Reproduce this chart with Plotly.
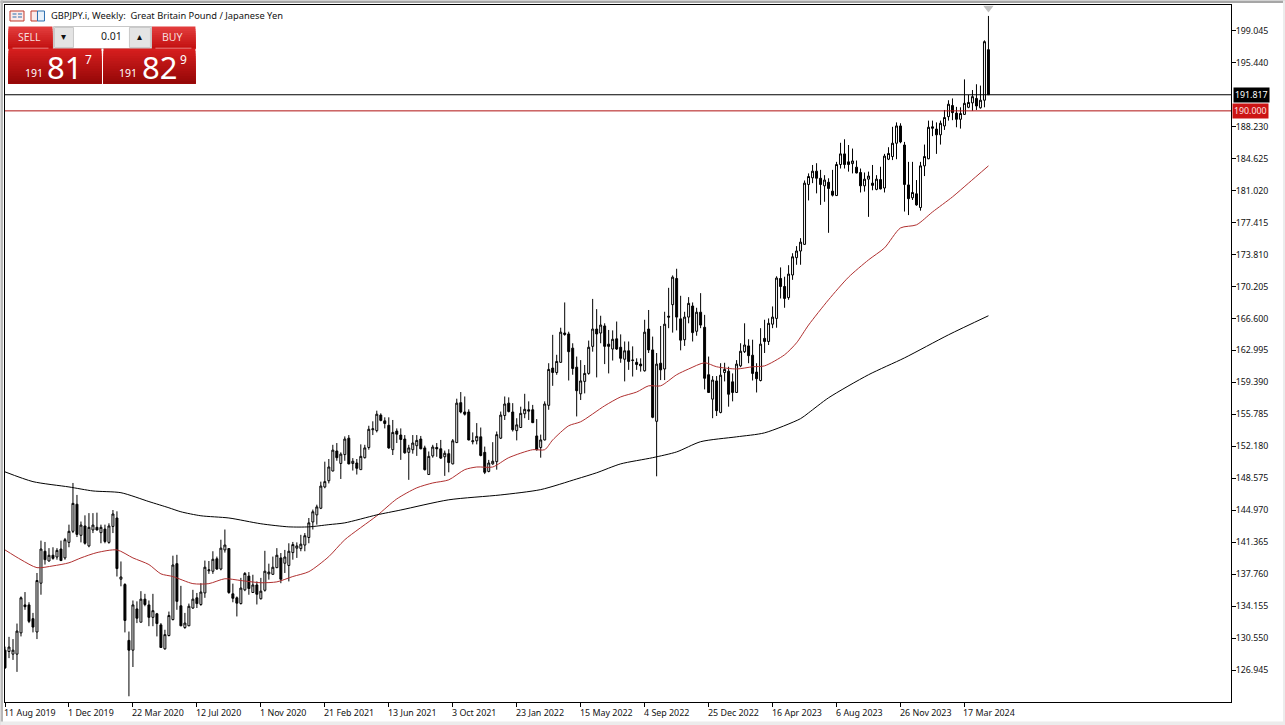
import plotly.graph_objects as go

highs = [129.6,130.7,130.45,132.2,135.25,135.75,134.6,133.4,137.9,141.55,
141.4,140.7,140.8,140.7,141.55,141.85,143.35,148.05,146.7,143.7,
144.4,144.65,144.65,144.7,143.35,143.35,143.5,145,144.85,139.2,
136.75,131.3,134.8,134.7,135.85,135.55,134.8,135.55,133.4,132.25,
131.5,133.55,139.85,139.95,136.45,133.4,134.45,136,135.65,136.75,
139.3,139.25,140.35,139.75,141.65,142.8,140.65,136.7,135.25,137.35,
138,138,137.7,136.95,137.35,140.4,138.95,139.75,140.7,140.15,
140.5,141.25,141.4,141.35,142.2,142.4,144.1,145.05,145.6,148.2,
150.45,150.75,152.35,152.55,151.5,153.3,153.45,150.85,150.75,152.4,
152.35,154.5,155,156.2,155.9,155.45,155.45,155.15,154.2,154.2,
153.45,152.35,153.45,153.45,153.35,152.25,151.6,152.35,152.55,152.9,
151.7,151.85,153,157.55,158.3,157.8,156.35,153.75,154.8,154.3,
152.15,150.65,152.65,153.85,156.1,157.8,157.7,157.05,155.35,156.65,
158.1,157.25,156.85,155.25,153.5,157.25,161.55,164.75,162.5,165.55,
168.4,165.1,163.8,162.3,161.9,161.35,164.1,168.8,167.65,166.9,
166.05,165.3,165.25,166.25,164.8,164,164,163.45,162.1,162.1,
166.45,167.55,164.55,162.7,165.75,167.35,170.05,171.45,172.2,169.15,
167.35,169,168.4,167.8,169.45,167,162.3,160.1,160.1,161.55,
161.6,161.15,160.4,161.9,163.8,166.05,164.25,164.2,161.55,165.5,
166.45,166.6,167.95,171.35,172.35,171.3,172.6,173.95,174.75,175.65,
182.15,182.95,183.9,184.1,183.35,182.75,182.4,183.35,184.25,186.4,
186.8,186.15,185.75,184.4,183.5,183.05,183.15,183.9,182.75,183.7,
185.15,185.9,188.2,188.7,188.6,186.5,184.25,184.25,182.2,184.25,
186.2,188.9,188.9,188.7,188.9,190.1,191.2,191.4,190.45,190.4,
193.55,191.8,192.35,193,192.85,197.95,200.7]

lows = [127.1,128.3,128.1,126.75,130.75,133.75,132.25,131.2,130.45,135.45,
138.85,139.2,139.4,139.4,139.3,139.4,140.8,142.4,141.95,141.35,
141.1,140.8,142.4,142.7,141.25,141.25,141.2,142.4,137.5,136.4,
131.2,124,127.3,132.25,132.35,134.15,131.9,131.9,130.75,129.45,
129.25,130.75,132.55,133.75,131.9,131.6,131.9,133.85,133.95,134.2,
135.1,137.8,137.8,138.25,138.2,140.2,135.55,134.6,133,134.35,
135.85,135.45,135.65,134.35,134.9,135.8,137.15,137.7,138.45,136.75,
137.9,136.95,139.4,139.6,140.35,140.35,141.25,142.8,143.35,145.1,
147.45,148,149.35,150.55,148.5,150.55,150.15,149.45,149,149.55,
150.8,151.8,153.45,153.75,155,154.2,151.9,151.2,152.55,150.65,
151.35,148.4,151.35,151.1,151.85,149.45,149,150.9,151,150.75,
148.85,149.25,150.15,152.55,155.9,155.65,152.85,152.4,152.4,151.05,
149.05,149.25,150.1,149.55,153,155.15,156,153.85,152.85,154.25,
155.35,155.15,154.8,151.7,150.9,152.85,156.3,159,160.25,161.6,
164.65,159.6,160.25,155.55,157.4,158.15,160.25,162.85,159.95,163.8,
161.45,160.4,161.85,163.05,161.6,159.5,160.8,160.05,160.8,160.6,
160.6,162.7,155.35,148.8,159.65,159.65,165.5,165,165.25,163,
163.5,166.05,164,164.65,165.5,158.6,158.2,155.35,155.6,155.9,
159.5,156.65,157.25,158.2,161.1,162.7,161.55,159.6,158.25,159.5,
162.7,163.6,165.5,165.55,168.85,167.8,168.7,170.95,172.65,172.65,
174.9,179.9,181.85,180.7,179.4,179.75,176.25,180.35,180.4,183.5,
183.5,183.15,182.95,182.95,180.8,180.9,178.05,181.05,181.05,181.15,
180.8,184.45,184.45,184.55,186.35,178.65,178.25,179.95,179.3,178.75,
182.65,184.55,187.15,185.15,186.2,187.85,188.9,188.95,188.15,188,
189.55,190.3,190,190.1,190.25,190.4,191.8]

opens = [129.2,129.05,128.75,128.75,131.15,134.3,134.3,132.75,131.25,136.75,
140.35,139.25,139.9,139.7,140.6,139.6,141.35,142.6,145.65,142.15,
143.2,140.95,142.75,143.05,142.45,142.85,141.35,143.15,144.1,137.2,
136.6,130.3,129.2,133.85,132.35,134.95,134.3,132.9,133.3,132.05,
129.35,130.85,132.65,138.95,134.2,131.75,131.95,133.95,135.1,134.35,
135.65,138.15,138.1,139.5,138.35,140.5,140.65,135.55,135.1,134.45,
136,137.55,135.7,136.55,135,135.95,137.8,137.75,138.5,139.6,
139,138.75,140.2,140.7,140.65,141.05,141.9,143.65,144.45,145.2,
147.6,148.3,149.4,151.65,150.25,151.25,153.1,150.25,150.3,149.55,
150.9,152.05,154.05,153.95,155.7,155.05,154.55,151.8,153.9,153.45,
153,151.5,151.8,152.25,153,152,149,151.1,152.05,151.9,
151,151.35,150.2,152.6,157.1,156.05,156.05,152.7,152.8,153.25,
151.5,149.35,150.2,150.45,153.1,155.65,157.05,156.05,153.95,154.3,
155.85,156.3,156.3,153.35,152.05,152.9,156.8,161,160.5,161.65,
164.95,164.85,163.25,161.1,158.1,159.5,160.4,163.45,165.4,164.95,
165.75,163.7,163.15,164.3,163.35,162,162.95,161.85,161.65,161.45,
160.7,165.4,163.05,155,161.55,160.9,166.85,168.15,171.1,166.55,
164.2,166.75,168,165.15,167.3,165.6,160.25,157.5,159.55,156,
160.5,160.65,159.45,158.25,161.25,162.85,163.5,162.45,160.55,159.6,
164.35,164,165.95,166.6,171.1,170.2,168.95,171.5,173.45,174.2,
174.95,181.7,182.45,183.2,182.4,181.55,181.95,180.95,180.45,183.95,
185.15,184.25,184.05,183.65,183.05,181.55,182.3,181.85,181.15,182.25,
181.3,184.55,184.85,186.35,188.3,186.15,181.65,180.2,180.65,179.1,
183.8,184.6,188.2,187.95,187.3,188.3,189.35,190.6,189.75,189.05,
189.6,190.4,190.9,191.4,190.35,191.2,196.9]

closes = [127.2,129.55,129.2,131.35,135.1,134.1,132.45,131.8,137.05,140.6,
139.4,139.9,139.55,140.45,139.3,141.65,142.6,145.75,142.25,143.3,
141.25,143.05,143.3,142.75,143.05,141.45,143.2,144.55,138.4,137.45,
132.55,129.2,134.3,132.8,134.95,134.35,132.9,133.65,132.2,129.5,
130.95,133.1,138.8,134.7,131.95,132.25,134.15,134.95,134.45,135.75,
138.55,138.25,139.45,138.35,140.7,141.05,135.7,135.05,134.5,136.2,
137.85,136.15,136.55,135.5,135.85,138.1,138,138.55,139.9,137.2,
139.7,140.35,141.1,140.95,141.15,142.1,143.55,144.8,145.35,147.7,
148.2,149.85,151.75,150.9,151.3,153,150.2,150.5,149.7,151.05,
152,154.1,154.15,155.8,155.1,154.75,152,153.75,153.55,152.95,
151.45,152,152.55,152.85,151.9,149.55,151.05,152.1,151.9,150.85,
151.4,150.35,152.8,157.05,156.05,155.8,152.9,152.8,153.3,151.15,
149.25,150.3,150.5,153.5,155.7,156.95,156.1,154.05,154.6,155.9,
156.35,156.15,154.85,151.8,152.9,156.95,160.85,160.5,161.75,165.05,
164.8,162.85,160.95,158.45,159.55,160.4,163.35,165.4,164.85,165.85,
163.45,163.45,164.25,163.15,162.1,162.95,161.75,161.9,161.4,161.25,
165.05,163.05,155.45,161.45,160.8,165.95,166.75,171.25,166.75,164.15,
166.75,168.3,165,167.3,165.85,159.85,158.25,159.65,156.2,160.2,
160.85,158.05,158.25,161.45,162.9,163.6,162.4,160.4,159.8,163.7,
164,166.05,166.75,171.15,170.2,168.85,171.6,173.55,174.2,175.2,
181.85,182.6,183.2,182.4,181.7,182.2,181.25,180.5,183.95,185.15,
183.95,183.95,184.35,183,181.55,182.3,182.65,181.6,182.3,181.2,
184.9,185.2,186.35,188.3,186.5,181.7,180.1,180.8,179.4,183.8,
184.85,188.15,188.05,187.3,188.6,189.25,190.75,189.8,189.05,189.7,
190.85,190.95,191.6,190.55,191.2,197.8,191.817]

ma_fast_bar = [0,4,8,12,16,19,23,28,32,36,39,42,47,51,55,59,64,68,72,76,81,85,93,98,103,107,111,115,118,122,126,132,135,137,141,144,150,154,158,161,164,168,171,175,178,183,187,190,195,198,201,206,211,216,220,224,228,232,237,241,246]
ma_fast = [140.5,139.4,138.5,138.7,139.05,139.6,140.2,140.5,139.6,138.85,137.8,137.5,136.7,136.7,137.25,137.05,136.8,136.9,137.5,138.05,139.75,141.65,144.35,146.25,147.5,148.05,148.4,149.55,149.85,149.85,150.9,151.8,151.8,152.9,154.5,154.95,156.75,157.75,158.3,159,159,160.25,160.9,161.6,161.15,160.9,161.15,161.25,162.5,163.85,165.85,168.7,171.25,173.2,174.55,176.8,177.15,178.6,180.3,181.85,183.8]
ma_slow_bar = [0,7,16,22,29,36,41,44,49,56,64,71,76,81,85,93,99,111,124,134,143,148,154,162,168,174,183,190,199,201,206,216,225,236,246]
ma_slow = [149.3,148.2,147.6,147.15,146.95,145.95,145.25,144.8,144.35,144.1,143.45,143.1,143.1,143.35,143.55,144.45,145,146.15,146.7,147.3,148.5,149.2,150.2,150.9,151.55,152.7,153.25,153.7,155.3,155.95,157.65,160.25,162.15,164.75,166.9]

x_tick_bars = [0,16,32,48,64,80,96,112,128,144,160,176,192,208,224,240]
x_tick_labels = ["11 Aug 2019","1 Dec 2019","22 Mar 2020","12 Jul 2020","1 Nov 2020","21 Feb 2021","13 Jun 2021","3 Oct 2021","23 Jan 2022","15 May 2022","4 Sep 2022","25 Dec 2022","16 Apr 2023","6 Aug 2023","26 Nov 2023","17 Mar 2024"]
y_ticks = [199.045,195.44,188.23,184.625,181.02,177.415,173.81,170.205,166.6,162.995,159.39,155.785,152.18,148.575,144.97,141.365,137.76,134.155,130.55,126.945]
last_price = 191.817
level_price = 190.0

W, H = 1285, 725
L, R, T, B = 4.5, 54, 4.5, 23
FONT = "Noto Sans"
pw, ph = W - L - R, H - T - B

def px(x):
    return (x - L) / pw

def py(y):
    return 1 - (y - T) / ph

shapes, notes = [], []

def rect(x0, y0, x1, y1, fill, line=None, lw=1):
    shapes.append(dict(type="rect", xref="paper", yref="paper", x0=px(x0), x1=px(x1), y0=py(y1), y1=py(y0),
                       fillcolor=fill, line=dict(color=line or fill, width=lw if line else 0), layer="above"))

def gradient(x0, y0, x1, y1, top, bottom, steps=10):
    for k in range(steps):
        t = k / (steps - 1)
        c = tuple(round(a + (b - a) * t) for a, b in zip(top, bottom))
        a, b = y0 + (y1 - y0) * k / steps, y0 + (y1 - y0) * (k + 1) / steps
        rect(x0, a, x1, y1, "rgb(%d,%d,%d)" % c)

def text(x, y, s, size, color="#111111", anchor="left", **kw):
    notes.append(dict(xref="paper", yref="paper", x=px(x), y=py(y), text=s, showarrow=False, xanchor=anchor,
                      yanchor="middle", font=dict(family=FONT, size=size, color=color), **kw))

fig = go.Figure()
fig.add_trace(go.Candlestick(x=list(range(len(opens))), open=opens, high=highs, low=lows, close=closes,
    increasing=dict(fillcolor="#ffffff", line=dict(color="#000000", width=1)),
    decreasing=dict(fillcolor="#000000", line=dict(color="#000000", width=1)),
    whiskerwidth=0, showlegend=False))
fig.add_trace(go.Scatter(x=ma_fast_bar, y=ma_fast, mode="lines", line=dict(color="#b03030", width=1, shape="spline", smoothing=0.7), showlegend=False))
fig.add_trace(go.Scatter(x=ma_slow_bar, y=ma_slow, mode="lines", line=dict(color="#000000", width=1, shape="spline", smoothing=0.7), showlegend=False))
fig.add_trace(go.Scatter(x=[len(opens) - 1], y=[201.6], mode="markers", cliponaxis=False,
    marker=dict(symbol="triangle-down", size=9, color="#c0c0c0"), showlegend=False))

# price lines
shapes.append(dict(type="line", xref="paper", yref="y", x0=0, x1=1, y0=last_price, y1=last_price, line=dict(color="#000000", width=1)))
shapes.append(dict(type="line", xref="paper", yref="y", x0=0, x1=1, y0=level_price, y1=level_price, line=dict(color="#b01010", width=1)))

# window edges
rect(0, 0, W, 2.5, "#a6a6a6")
rect(0, 0, 2.5, H, "#b8b8b8")
rect(0, 721.5, W, H, "#ececec")
rect(1283, 0, W, H, "#ececec")

# chart icons
rect(9.5, 10.5, 23.5, 20.5, "#fbeaea", "#c0392b")
rect(12, 13, 16, 14, "#2c6fb0"); rect(12, 16, 16, 17, "#2c6fb0"); rect(17.5, 13, 21.5, 14, "#2c6fb0"); rect(17.5, 16, 21.5, 17, "#2c6fb0")
rect(30.5, 10.5, 37, 20.5, "#fbeaea", "#c0392b")
rect(37, 10.5, 44, 20.5, "#e8f1fa", "#2c6fb0")
text(49, 15.5, "GBPJPY.i, Weekly:  Great Britain Pound / Japanese Yen", 9.3)

# trade panel
gradient(8, 26, 52, 48, (226, 60, 60), (196, 18, 18))
gradient(151, 26, 195, 48, (226, 60, 60), (196, 18, 18))
rect(53, 26, 151, 48, "#ffffff", "#c8c8c8")
rect(54, 27, 73, 47, "#e4e4e4", "#c8c8c8")
rect(129, 27, 150, 47, "#e4e4e4", "#c8c8c8")
gradient(8, 48, 101, 83, (214, 30, 30), (150, 8, 8), 14)
gradient(103, 48, 195, 83, (214, 30, 30), (150, 8, 8), 14)
rect(12, 47.2, 48, 48, "#f0a0a0")
rect(155, 47.2, 191, 48, "#f0a0a0")
text(29, 37, "SELL", 10.5, "#f6dcdc", "center")
text(172, 37, "BUY", 10.5, "#f6dcdc", "center")
text(124, 36, "0.01", 10.5, "#222222", "right")
text(63.5, 36, "▾", 10, "#111111", "center")
text(139, 36, "▴", 10, "#111111", "center")
text(34, 73, "191", 10.5, "#ffffff", "center")
text(64, 67, "81", 31, "#ffffff", "center")
text(88, 59, "7", 12, "#ffffff", "center")
text(128, 73, "191", 10.5, "#ffffff", "center")
text(159.5, 67, "82", 31, "#ffffff", "center")
text(183.5, 59, "9", 12, "#ffffff", "center")

# axis date labels, left-aligned on their ticks
for b, s in zip(x_tick_bars, x_tick_labels):
    notes.append(dict(xref="x", yref="paper", x=b, y=0, yshift=-10, text=s, showarrow=False, xanchor="left", yanchor="middle",
                      xshift=-3, font=dict(family=FONT, size=8.9, color="#111111")))

# price tags
notes.append(dict(xref="paper", yref="y", x=px(1233.5), y=last_price, text="191.817", showarrow=False, xanchor="left", yanchor="middle",
                  bgcolor="#000000", borderpad=1, font=dict(family=FONT, size=8.8, color="#ffffff")))
notes.append(dict(xref="paper", yref="y", x=px(1232.5), y=level_price, text="190.000", showarrow=False, xanchor="left", yanchor="middle",
                  bgcolor="#cc1414", borderpad=1, font=dict(family=FONT, size=8.8, color="#ffe0e0")))

fig.update_layout(
    width=W, height=H, autosize=False, paper_bgcolor="#ffffff", plot_bgcolor="#ffffff",
    margin=dict(l=L, r=R, t=T, b=B), showlegend=False, shapes=shapes, annotations=notes, hovermode=False,
    xaxis=dict(range=[0, 306.67], rangeslider=dict(visible=False), showgrid=False, zeroline=False, showline=True, linecolor="#000000",
               linewidth=1, mirror=True, tickmode="array", tickvals=x_tick_bars, ticktext=[""] * len(x_tick_bars), ticks="outside", ticklen=4,
               tickcolor="#000000"),
    yaxis=dict(range=[123.355, 201.935], side="right", showgrid=False, zeroline=False, showline=True, linecolor="#000000", linewidth=1, mirror=True,
               tickmode="array", tickvals=y_ticks, ticktext=["%.3f" % v for v in y_ticks], ticks="outside", ticklen=4, tickcolor="#000000",
               ticklabelstandoff=-2, tickfont=dict(family=FONT, size=8.8, color="#111111")),
)
fig.write_html("out.html", config={"displayModeBar": False}, post_script="document.body.style.margin='0';document.body.style.overflow='hidden';")
